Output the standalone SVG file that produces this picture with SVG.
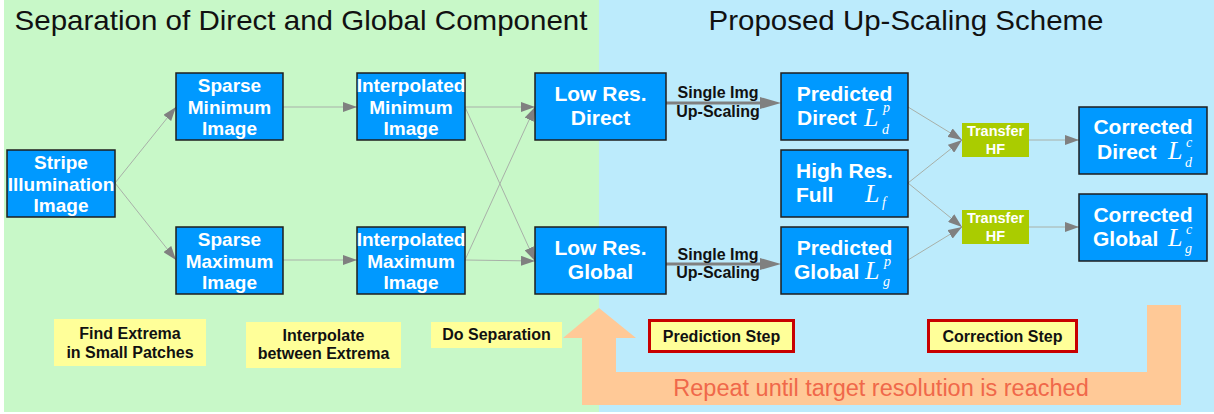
<svg xmlns="http://www.w3.org/2000/svg" width="1214" height="414" viewBox="0 0 1214 414">
  <style>
    .title { font-family: "Liberation Sans", Arial, sans-serif; font-size: 28px; fill: #111; text-anchor: middle; }
    .node rect { fill: #0099FF; stroke: #1E1E1E; stroke-width: 1.5; }
    .n3 { font-family: "Liberation Sans", Arial, sans-serif; font-weight: bold; font-size: 19px; fill: #fff; text-anchor: middle; }
    .n2 { font-family: "Liberation Sans", Arial, sans-serif; font-weight: bold; font-size: 21px; fill: #fff; }
    .mid { text-anchor: middle; }
    .m { font-family: "Liberation Serif", "Times New Roman", serif; font-style: italic; fill: #fff; font-size: 26px; }
    .ms { font-size: 14px; }
    .hf rect { fill: #AACC00; }
    .hf text { font-family: "Liberation Sans", Arial, sans-serif; font-weight: bold; font-size: 14.5px; fill: #fff; text-anchor: middle; }
    .note rect { fill: #FFFF99; }
    .note text, .lbl { font-family: "Liberation Sans", Arial, sans-serif; font-weight: bold; font-size: 16px; fill: #111; text-anchor: middle; }
    .step rect { fill: #FFFF99; stroke: #C80000; stroke-width: 3; }
    .thin { stroke: #A8B0A8; stroke-width: 1; fill: none; marker-end: url(#head); }
    .thick { stroke: #808080; stroke-width: 3; fill: none; marker-end: url(#bighead); }
    .repeat { font-family: "Liberation Sans", Arial, sans-serif; font-size: 23.5px; fill: #F0684A; text-anchor: middle; }
  </style>
  <defs>
    <marker id="head" markerUnits="userSpaceOnUse" markerWidth="14" markerHeight="10" refX="14" refY="5" orient="auto">
      <path d="M0,0 L14,5 L0,10 z" fill="#808080"/>
    </marker>
    <marker id="bighead" markerUnits="userSpaceOnUse" markerWidth="21" markerHeight="12" refX="0" refY="6" orient="auto">
      <path d="M0,0 L21,6 L0,12 z" fill="#808080"/>
    </marker>
  </defs>

  <!-- two panels -->
  <rect x="4" y="0" width="595" height="412" fill="#C8F8C8"/>
  <rect x="599" y="0" width="615" height="412" fill="#BCEBFC"/>
  <text class="title" x="301" y="30" textLength="573" lengthAdjust="spacingAndGlyphs">Separation of Direct and Global Component</text>
  <text class="title" x="906" y="30" textLength="395" lengthAdjust="spacingAndGlyphs">Proposed Up-Scaling Scheme</text>

  <!-- loop-back arrow -->
  <path d="M599,308 L636,338 L616,338 L616,372 L1147,372 L1147,305 L1181,305 L1181,405 L582,405 L582,338 L563,338 Z" fill="#FFC997"/>
  <text class="repeat" x="881" y="396">Repeat until target resolution is reached</text>

  <g id="connectors">
    <line class="thin" x1="115" y1="183" x2="176" y2="107"/>
    <line class="thin" x1="115" y1="183" x2="176" y2="260"/>
    <line class="thin" x1="283" y1="107" x2="357" y2="107"/>
    <line class="thin" x1="283" y1="260" x2="357" y2="260"/>
    <line class="thin" x1="465" y1="107" x2="535" y2="107"/>
    <line class="thin" x1="465" y1="107" x2="535" y2="261"/>
    <line class="thin" x1="465" y1="260" x2="535" y2="107"/>
    <line class="thin" x1="465" y1="260" x2="535" y2="261"/>
    <line class="thick" x1="666" y1="103" x2="760" y2="103"/>
    <line class="thick" x1="666" y1="264" x2="760" y2="264"/>
    <line class="thin" x1="908" y1="107" x2="962" y2="140"/>
    <line class="thin" x1="908" y1="183" x2="962" y2="140"/>
    <line class="thin" x1="908" y1="183" x2="962" y2="227"/>
    <line class="thin" x1="908" y1="260" x2="962" y2="227"/>
    <line class="thin" x1="1029" y1="140" x2="1079" y2="140"/>
    <line class="thin" x1="1029" y1="227" x2="1079" y2="227"/>
    <text class="lbl" x="718" y="98">Single Img</text>
    <text class="lbl" x="718" y="117">Up-Scaling</text>
    <text class="lbl" x="718" y="260">Single Img</text>
    <text class="lbl" x="718" y="278">Up-Scaling</text>
  </g>

  <g id="stripe" class="node">
    <rect x="7" y="150" width="108" height="67"/>
    <text class="n3" x="61" y="169">Stripe</text>
    <text class="n3" x="61" y="190.5">Illumination</text>
    <text class="n3" x="61" y="212">Image</text>
  </g>
  <g id="sparse-min" class="node">
    <rect x="176" y="73" width="107" height="67"/>
    <text class="n3" x="229.5" y="92">Sparse</text>
    <text class="n3" x="229.5" y="113.5">Minimum</text>
    <text class="n3" x="229.5" y="135">Image</text>
  </g>
  <g id="sparse-max" class="node">
    <rect x="176" y="227" width="107" height="67"/>
    <text class="n3" x="229.5" y="246">Sparse</text>
    <text class="n3" x="229.5" y="267.5">Maximum</text>
    <text class="n3" x="229.5" y="289">Image</text>
  </g>
  <g id="interp-min" class="node">
    <rect x="357" y="73" width="108" height="67"/>
    <text class="n3" x="411" y="92">Interpolated</text>
    <text class="n3" x="411" y="113.5">Minimum</text>
    <text class="n3" x="411" y="135">Image</text>
  </g>
  <g id="interp-max" class="node">
    <rect x="357" y="227" width="108" height="67"/>
    <text class="n3" x="411" y="246">Interpolated</text>
    <text class="n3" x="411" y="267.5">Maximum</text>
    <text class="n3" x="411" y="289">Image</text>
  </g>
  <g id="low-direct" class="node">
    <rect x="535" y="73" width="131" height="67"/>
    <text class="n2 mid" x="600.5" y="101">Low Res.</text>
    <text class="n2 mid" x="600.5" y="125">Direct</text>
  </g>
  <g id="low-global" class="node">
    <rect x="535" y="227" width="131" height="67"/>
    <text class="n2 mid" x="600.5" y="255">Low Res.</text>
    <text class="n2 mid" x="600.5" y="279">Global</text>
  </g>
  <g id="pred-direct" class="node">
    <rect x="781" y="73" width="127" height="67"/>
    <text class="n2 mid" x="844.5" y="101">Predicted</text>
    <text class="n2" x="797" y="125">Direct</text>
    <text class="m" x="864" y="126">L<tspan class="ms" x="883" y="112">p</tspan><tspan class="ms" x="882" y="134">d</tspan></text>
  </g>
  <g id="high-full" class="node">
    <rect x="781" y="150" width="127" height="67"/>
    <text class="n2" x="796" y="178">High Res.</text>
    <text class="n2" x="796" y="202">Full</text>
    <text class="m" x="865" y="202">L<tspan class="ms" x="882" y="207">f</tspan></text>
  </g>
  <g id="pred-global" class="node">
    <rect x="781" y="227" width="127" height="67"/>
    <text class="n2 mid" x="844.5" y="255">Predicted</text>
    <text class="n2" x="794" y="279">Global</text>
    <text class="m" x="865" y="279">L<tspan class="ms" x="884" y="266">p</tspan><tspan class="ms" x="883" y="286">g</tspan></text>
  </g>
  <g id="transfer-direct" class="hf">
    <rect x="962" y="123" width="67" height="34"/>
    <text x="995.5" y="136">Transfer</text>
    <text x="995.5" y="154">HF</text>
  </g>
  <g id="transfer-global" class="hf">
    <rect x="962" y="210" width="67" height="34"/>
    <text x="995.5" y="223">Transfer</text>
    <text x="995.5" y="241">HF</text>
  </g>
  <g id="corr-direct" class="node">
    <rect x="1079" y="107" width="128" height="67"/>
    <text class="n2 mid" x="1143" y="134">Corrected</text>
    <text class="n2" x="1097" y="159">Direct</text>
    <text class="m" x="1168" y="159">L<tspan class="ms" x="1186" y="147">c</tspan><tspan class="ms" x="1185" y="167">d</tspan></text>
  </g>
  <g id="corr-global" class="node">
    <rect x="1079" y="194" width="128" height="67"/>
    <text class="n2 mid" x="1143" y="222">Corrected</text>
    <text class="n2" x="1093" y="246">Global</text>
    <text class="m" x="1168" y="246">L<tspan class="ms" x="1186" y="234">c</tspan><tspan class="ms" x="1185" y="253">g</tspan></text>
  </g>

  <g id="note-extrema" class="note">
    <rect x="54" y="319" width="152" height="47"/>
    <text x="130" y="339">Find Extrema</text>
    <text x="130" y="358">in Small Patches</text>
  </g>
  <g id="note-interp" class="note">
    <rect x="246" y="322" width="155" height="46"/>
    <text x="323.5" y="341">Interpolate</text>
    <text x="323.5" y="359">between Extrema</text>
  </g>
  <g id="note-sep" class="note">
    <rect x="431" y="322" width="131" height="26"/>
    <text x="496.5" y="340">Do Separation</text>
  </g>
  <g id="step-predict" class="step">
    <rect x="649.5" y="320.5" width="144" height="31"/>
    <text class="lbl" x="721.5" y="342">Prediction Step</text>
  </g>
  <g id="step-correct" class="step">
    <rect x="928.5" y="320.5" width="148" height="31"/>
    <text class="lbl" x="1002.5" y="342">Correction Step</text>
  </g>
</svg>
